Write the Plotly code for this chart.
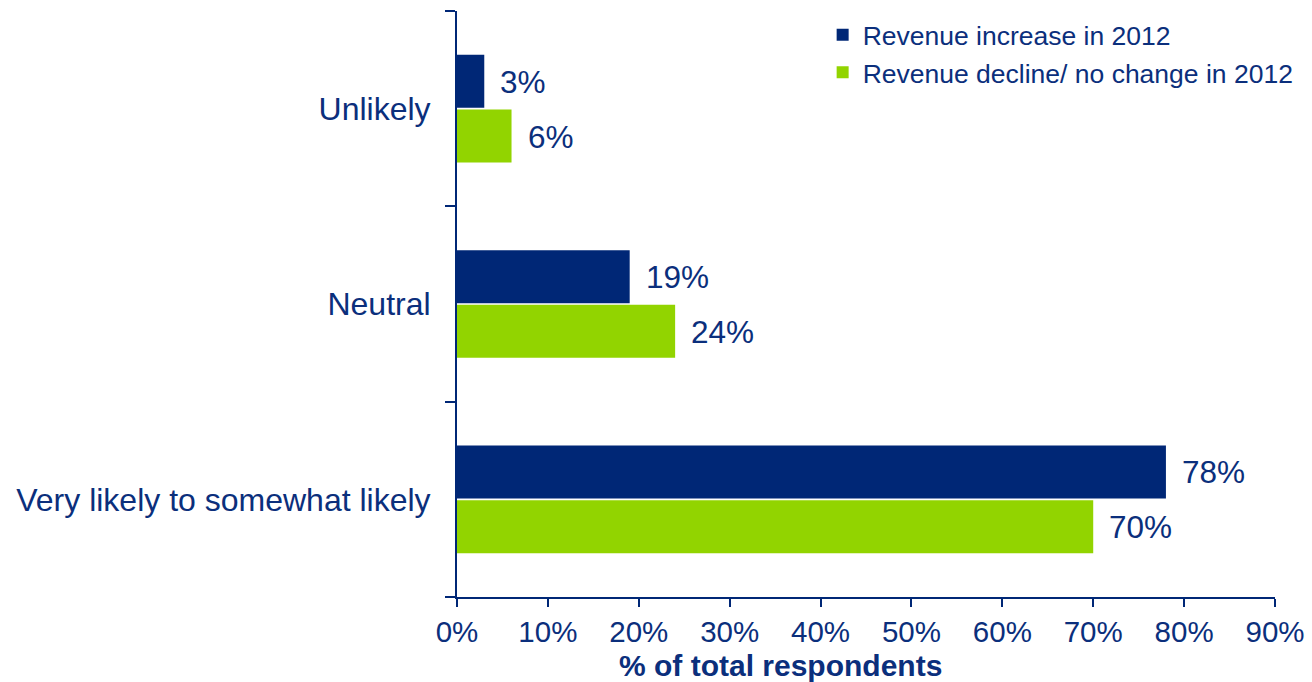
import plotly.graph_objects as go

categories = ["Very likely to somewhat likely", "Neutral", "Unlikely"]
revenue_increase = [78, 19, 3]
revenue_decline = [70, 24, 6]
x_ticks = [0, 10, 20, 30, 40, 50, 60, 70, 80, 90]

NAVY = "#002776"
GREEN = "#92d400"
TEXT = "#0b2f7c"
FONT = "Liberation Sans, Arial, sans-serif"

fig = go.Figure()
# green first so it sits below the navy bar in each group
fig.add_trace(go.Bar(
    name="Revenue decline/ no change in 2012",
    y=categories, x=revenue_decline, orientation="h",
    marker=dict(color=GREEN, line=dict(width=0)),
    legendgroup="b",
))
fig.add_trace(go.Bar(
    name="Revenue increase in 2012",
    y=categories, x=revenue_increase, orientation="h",
    marker=dict(color=NAVY, line=dict(width=0)),
    legendgroup="a",
))

for cat, v in zip(categories, revenue_increase):
    fig.add_annotation(x=v, y=cat, text=f"{v}%", showarrow=False,
                       xanchor="left", xshift=14, yshift=27,
                       font=dict(size=31.5, color=TEXT, family=FONT))
for cat, v in zip(categories, revenue_decline):
    fig.add_annotation(x=v, y=cat, text=f"{v}%", showarrow=False,
                       xanchor="left", xshift=14, yshift=-28,
                       font=dict(size=31.5, color=TEXT, family=FONT))

# axis title sits just under the tick labels, left of centre
fig.add_annotation(text="<b>% of total respondents</b>", showarrow=False,
                   xref="paper", yref="paper", x=0.396, y=-0.117,
                   xanchor="center", yanchor="middle", borderpad=0,
                   font=dict(size=30, color=TEXT, family=FONT))

fig.update_layout(
    barmode="group",
    bargap=0.44,
    bargroupgap=0.03,
    width=1312, height=682,
    margin=dict(l=457, r=37, t=11, b=85, autoexpand=False),
    plot_bgcolor="white",
    paper_bgcolor="white",
    font=dict(family=FONT, color=TEXT, size=31),
    showlegend=True,
    legend=dict(
        traceorder="reversed",
        x=0.447, y=1.0, xanchor="left", yanchor="top",
        font=dict(size=26.5, color=TEXT, family=FONT),
        bgcolor="rgba(0,0,0,0)",
        tracegroupgap=11,
        itemwidth=30,
    ),
    xaxis=dict(
        range=[0, 90],
        tickvals=x_ticks,
        ticktext=[f"{t}%" for t in x_ticks],
        showgrid=False, zeroline=False,
        showline=True, linecolor=NAVY, linewidth=2,
        ticks="outside", ticklen=8, tickwidth=2, tickcolor=NAVY,
        tickfont=dict(size=29.5, color=TEXT),
        ticklabelstandoff=0,
    ),
    yaxis=dict(
        range=[-0.5, 2.5],
        showgrid=False, zeroline=False,
        showline=True, linecolor=NAVY, linewidth=2,
        ticks="outside", tickson="boundaries", ticklen=10, tickwidth=2, tickcolor=NAVY,
        tickfont=dict(size=32, color=TEXT),
        ticklabelstandoff=18,
    ),
)

fig.write_html("out.html", config={"displayModeBar": False},
               post_script="document.body.style.margin='0';")
